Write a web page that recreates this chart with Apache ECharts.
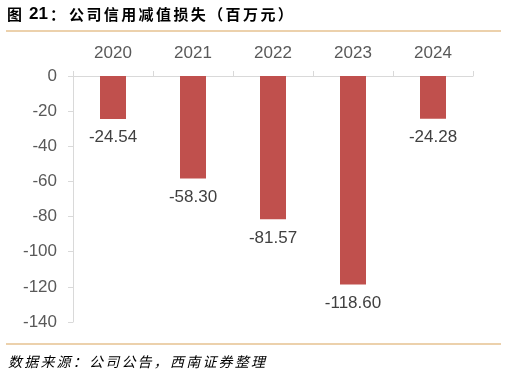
<!DOCTYPE html>
<html>
<head>
    <meta charset="UTF-8">
    <title>公司信用减值损失</title>
    <script src="https://cdn.jsdelivr.net/npm/echarts@6/dist/echarts.min.js"></script>
    <style>
        html, body { margin: 0; padding: 0; background: #fff; }
        #chart { width: 507px; height: 376px; }
    </style>
</head>
<body>
<div id="chart"></div>
<script>
    // 数据
    var years = ['2020', '2021', '2022', '2023', '2024'];
    var losses = [-24.54, -58.30, -81.57, -118.60, -24.28];
    var yTicks = { min: -140, max: 0, interval: 20 };
    var titleText = '公司信用减值损失（百万元）';
    var sourceText = '数据来源：公司公告，西南证券整理';

    var CJK = '"Noto Sans CJK SC", sans-serif';
    var NUM = '"Liberation Sans", Arial, sans-serif';

    // 逐字排列，模拟原图的字间距
    function spacedText(str, x0, step, y, font) {
        var els = [];
        for (var i = 0; i < str.length; i++) {
            els.push({
                type: 'text',
                x: x0 + i * step,
                y: y,
                style: { text: str[i], font: font, fill: '#000', textVerticalAlign: 'middle' }
            });
        }
        return els;
    }

    var graphics = [
        { type: 'line', shape: { x1: 6, y1: 31, x2: 501, y2: 31 }, style: { stroke: '#d9a35a', lineWidth: 1.2 } },
        { type: 'line', shape: { x1: 6, y1: 344, x2: 501, y2: 344 }, style: { stroke: '#d9a35a', lineWidth: 1.2 } },
        { type: 'text', x: 7, y: 14, style: { text: '图', font: 'bold 15px ' + CJK, fill: '#000', textVerticalAlign: 'middle' } },
        { type: 'text', x: 29, y: 14, style: { text: '21', font: 'bold 17px ' + NUM, fill: '#000', textVerticalAlign: 'middle' } },
        { type: 'text', x: 50, y: 14, style: { text: '：', font: 'bold 15px ' + CJK, fill: '#000', textVerticalAlign: 'middle' } }
    ];
    graphics = graphics.concat(spacedText(titleText, 69, 17.4, 14, 'bold 15px ' + CJK));
    graphics = graphics.concat(spacedText(sourceText, 8, 16.2, 362, 'italic 14px ' + CJK));

    var myChart = echarts.init(document.getElementById('chart'));
    var option = {
        backgroundColor: '#fff',
        animation: false,
        graphic: graphics,
        grid: { left: 73, right: 34, top: 76, bottom: 54 },
        xAxis: {
            type: 'category',
            position: 'top',
            data: years,
            axisLine: { onZero: false, lineStyle: { color: '#d9d9d9' } },
            axisTick: { show: true, length: 5, lineStyle: { color: '#d9d9d9' } },
            axisLabel: { margin: 14, fontSize: 17, color: '#595959', fontFamily: NUM }
        },
        yAxis: {
            type: 'value',
            min: yTicks.min,
            max: yTicks.max,
            interval: yTicks.interval,
            axisLine: { show: true, lineStyle: { color: '#d9d9d9' } },
            axisTick: { show: true, length: 5, lineStyle: { color: '#d9d9d9' } },
            splitLine: { show: false },
            axisLabel: { margin: 16, fontSize: 17, color: '#595959', fontFamily: NUM }
        },
        series: [{
            type: 'bar',
            data: losses,
            barWidth: 26,
            itemStyle: { color: '#c0504d' },
            label: {
                show: true,
                position: 'bottom',
                distance: 10,
                fontSize: 17,
                color: '#404040',
                fontFamily: NUM,
                formatter: function (p) { return p.value.toFixed(2); }
            }
        }]
    };
    myChart.setOption(option);
</script>
</body>
</html>
